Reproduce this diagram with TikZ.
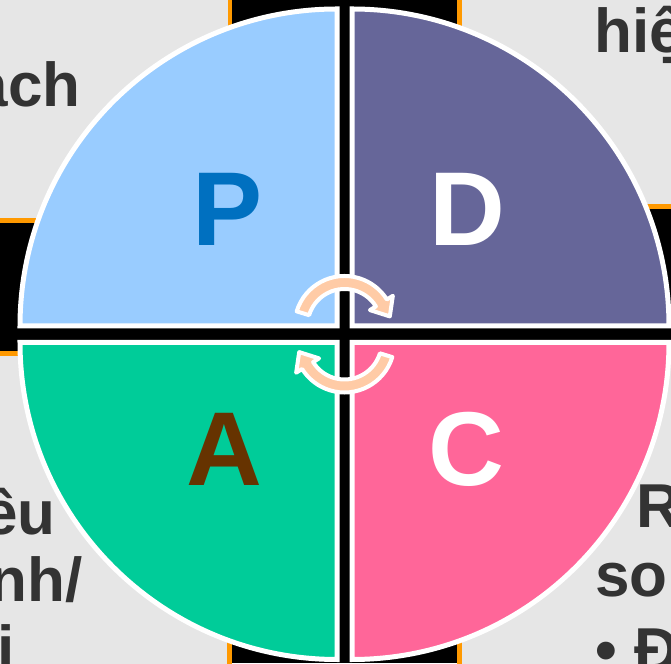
\documentclass[tikz,border=0pt]{standalone}
\usepackage{fontspec}
\setmainfont{Liberation Sans}
\definecolor{boxgray}{HTML}{E6E6E6}
\definecolor{boxorange}{HTML}{FF9900}
\definecolor{pfill}{HTML}{99CCFF}
\definecolor{ptext}{HTML}{0070C0}
\definecolor{dfill}{HTML}{666699}
\definecolor{afill}{HTML}{00CC99}
\definecolor{atext}{HTML}{663300}
\definecolor{cfill}{HTML}{FF6699}
\definecolor{textgray}{HTML}{333333}
\definecolor{peach}{HTML}{FFCBA6}
\begin{document}
\begin{tikzpicture}[x=1pt,y=1pt,
  cornerbox/.style={fill=boxgray, draw=boxorange, line width=4.5pt},
  quad/.style={draw=white, line width=5pt},
  bigletter/.style={font=\bfseries\fontsize{105}{105}\selectfont, inner sep=0pt},
  sidetext/.style={font=\bfseries\fontsize{62}{62}\selectfont, text=textgray, inner sep=0pt},
  turnarrow/.pic={
    \filldraw[fill=peach, draw=white, line width=4pt, line join=round]
      (163:50) arc[start angle=163, end angle=32, radius=50]
      -- (32:57) -- (45.3,9.6) -- (32:30) -- (32:37)
      arc[start angle=32, end angle=163, radius=37] -- cycle;
  }
]
\useasboundingbox (0,0) rectangle (671,663);
\fill[black] (0,0) rectangle (671,663);
% corner boxes
\draw[cornerbox] (-10,442.5) rectangle (230,680);
\draw[cornerbox] (459.5,456.5) rectangle (690,680);
\draw[cornerbox] (-10,-20) rectangle (229.5,309.5);
\draw[cornerbox] (459.5,-20) rectangle (690,309.5);
% side texts
\node[sidetext, anchor=base east] (tl) at (81,556) {ach};
\node[sidetext, anchor=base west] (tr) at (594,610) {hiệ};
\node[sidetext, anchor=base east] (bl1) at (56,128) {ều};
\node[sidetext, anchor=base east] (bl2) at (83,61) {nh/};
\node[sidetext, anchor=base east] (bl3) at (15,-6) {i};
\node[sidetext, anchor=base west] (br1) at (636,135) {R};
\node[sidetext, anchor=base west] (br2) at (595,66) {so};
\node[sidetext, anchor=base west] (br3) at (595,-8) {• Đ};
% quadrants
\filldraw[quad, fill=pfill] (337,337) -- ++(-317,0) arc[start angle=180, end angle=90, radius=317] -- cycle;
\filldraw[quad, fill=dfill] (352,337) -- ++(0,317) arc[start angle=90, end angle=0, radius=317] -- cycle;
\filldraw[quad, fill=afill] (337,320.5) -- ++(-317,0) arc[start angle=180, end angle=270, radius=317] -- cycle;
\filldraw[quad, fill=cfill] (352,320.5) -- ++(317,0) arc[start angle=0, end angle=-90, radius=317] -- cycle;
% letters
\node[bigletter, text=ptext] (P) at (227.5,454) {P};
\node[bigletter, text=white] (D) at (467.5,454) {D};
\node[bigletter, text=atext] (A) at (224.5,213.5) {A};
\node[bigletter, text=white] (C) at (466,213.5) {C};
% cycle arrows
\pic at (344.5,337) {turnarrow};
\pic[rotate=180] at (344.5,320.5) {turnarrow};
\end{tikzpicture}
\end{document}
